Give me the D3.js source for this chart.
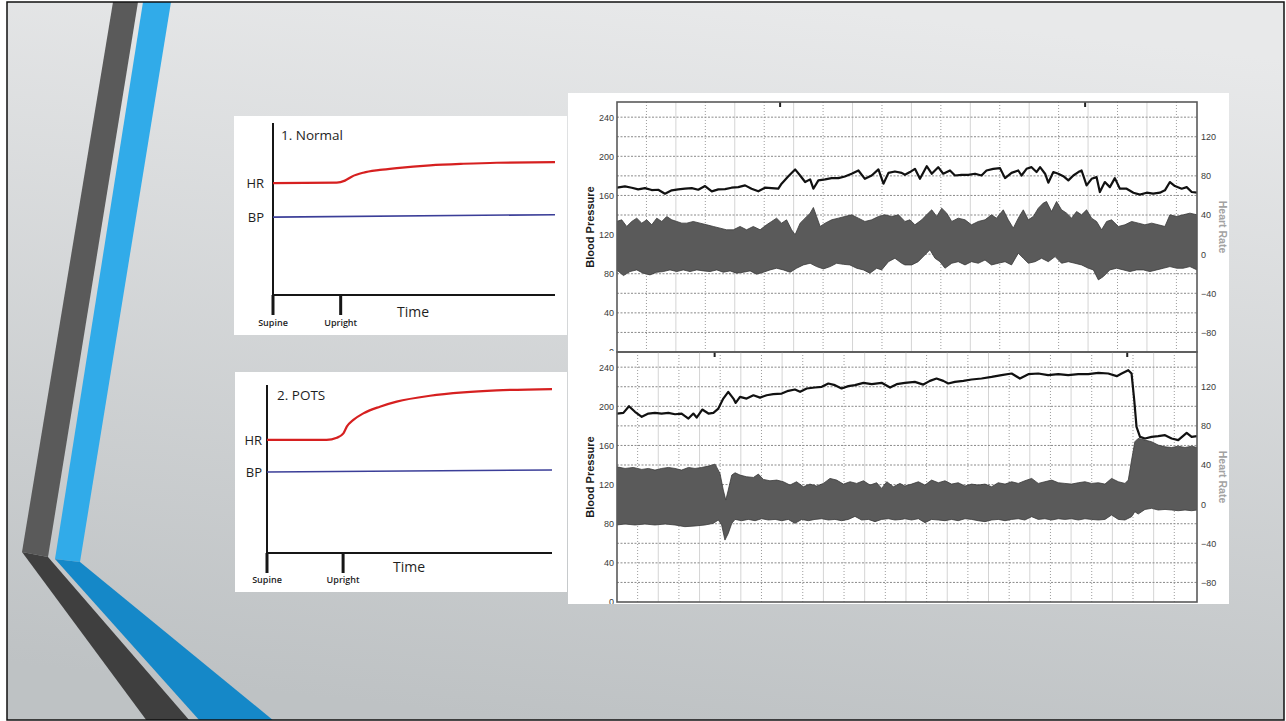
<!DOCTYPE html>
<html>
<head>
<meta charset="utf-8">
<script src="https://cdn.jsdelivr.net/npm/d3@7"></script>
<style>
  html, body { margin: 0; padding: 0; background: #fff; }
  svg { display: block; }
  .sketch text { font-family: "Open Sans", "Noto Sans", sans-serif; fill: #1e1e1e; }
  .trace text { font-family: "Liberation Sans", Arial, sans-serif; }
</style>
</head>
<body>
<div id="chart-area"></div>
<script>

// ---- schematic panels (time 0..10, level 0..10) ----
let phaseNames = ["Supine", "Upright"];
let uprightAt = [2.4, 2.67];

let normalHR = [[0,6.51],[2.26,6.53],[2.55,6.65],[2.79,6.88],[3.20,7.11],[3.79,7.27],[4.39,7.38],
  [5.57,7.54],[6.75,7.63],[7.93,7.69],[10,7.72]];
let normalBP = [[0,4.53],[10,4.67]];

let potsHR = [[0,6.73],[2.09,6.73],[2.45,6.86],[2.68,7.12],[2.80,7.52],[3.03,7.92],[3.38,8.31],
  [3.96,8.71],[4.55,9.01],[5.72,9.36],[6.89,9.56],[8.06,9.68],[10,9.76]];
let potsBP = [[0,4.82],[10,4.94]];

// ---- recorded traces: [minute, value] ----
let bpTicks = [0, 40, 80, 120, 160, 200, 240];
let hrTicks = [-80, -40, 0, 40, 80, 120];

// normal subject (top)
let topHR = [[-1.00,67.9],[-0.73,69.2],[-0.50,67.9],[-0.28,66.2],[-0.05,67.5],[0.18,65.5],[0.40,65.8],
  [0.63,61.8],[0.86,65.2],[1.08,66.2],[1.31,66.9],[1.54,67.5],[1.76,65.8],[1.99,69.6],[2.22,64.2],
  [2.44,66.2],[2.67,66.5],[2.89,67.9],[3.12,68.5],[3.35,70.3],[3.57,66.9],[3.80,64.2],[4.03,67.9],
  [4.25,67.5],[4.48,66.9],[4.59,72.0],[4.82,79.7],[5.05,86.6],[5.22,80.4],[5.39,73.7],[5.56,76.4],
  [5.67,66.9],[5.84,75.4],[6.07,76.4],[6.29,77.7],[6.52,77.7],[6.74,79.4],[6.97,82.2],[7.20,85.5],
  [7.42,77.0],[7.65,80.4],[7.88,86.6],[8.05,72.0],[8.22,83.1],[8.44,84.5],[8.67,83.1],
  [8.78,81.1],[8.95,83.9],[9.12,87.2],[9.29,77.0],[9.52,89.9],[9.69,82.2],[9.91,88.9],[10.08,82.2],
  [10.31,85.5],[10.48,80.4],[10.70,81.1],[10.93,81.1],[11.16,82.2],[11.38,80.4],[11.55,85.5],[11.78,87.2],
  [12.01,87.9],[12.18,77.7],[12.40,83.1],[12.63,85.5],[12.74,80.4],[12.91,87.2],[13.08,88.9],[13.25,83.9],
  [13.37,88.9],[13.54,82.2],[13.65,73.0],[13.82,83.9],[13.99,82.2],[14.16,79.7],[14.33,75.4],[14.50,80.4],
  [14.67,83.9],[14.78,85.5],[14.95,70.3],[15.12,77.0],[15.29,78.7],[15.40,63.5],[15.57,73.7],[15.74,68.5],
  [15.91,77.7],[16.08,66.9],[16.31,66.9],[16.54,62.8],[16.76,60.8],[16.99,62.8],[17.21,61.8],[17.44,62.8],
  [17.61,65.2],[17.78,73.7],[17.95,69.6],[18.18,66.9],[18.35,68.5],[18.52,63.5],[18.70,62.8]];

let topBpHi = [[-1.01,133.4],[-0.84,135.1],[-0.67,128.3],[-0.50,133.4],[-0.33,136.8],[-0.16,131.7],[0.01,135.1],
  [0.18,130.0],[0.35,136.8],[0.52,133.4],[0.69,138.5],[0.86,135.1],[1.03,133.4],[1.20,131.7],[1.37,131.7],
  [1.59,133.4],[1.82,131.7],[2.05,130.0],[2.27,128.3],[2.50,126.6],[2.72,124.9],[2.95,124.9],[3.18,128.3],
  [3.40,124.9],[3.63,128.3],[3.86,124.9],[4.08,130.0],[4.25,133.4],[4.42,136.8],[4.59,131.7],[4.76,135.1],
  [4.93,124.9],[5.05,119.9],[5.22,131.7],[5.39,136.8],[5.56,141.9],[5.67,147.7],[5.78,138.5],[5.90,128.3],
  [6.07,131.7],[6.29,135.1],[6.52,136.8],[6.74,138.5],[6.97,140.2],[7.20,136.8],[7.42,133.4],[7.65,135.1],
  [7.88,138.5],[8.10,140.2],[8.33,138.5],[8.56,140.2],
  [8.78,133.4],[8.95,135.1],[9.12,130.0],[9.35,135.1],[9.57,141.9],[9.69,145.3],[9.86,138.5],[10.03,147.0],
  [10.20,141.9],[10.37,133.4],[10.59,136.8],[10.82,135.1],[11.04,130.0],[11.27,133.4],[11.50,135.1],[11.72,140.2],
  [11.89,136.8],[12.12,145.3],[12.29,135.1],[12.46,126.6],[12.63,136.8],[12.80,145.3],[12.97,135.1],[13.14,138.5],
  [13.31,147.0],[13.48,152.2],[13.59,153.8],[13.76,143.6],[13.93,153.8],[14.10,145.3],[14.27,141.9],[14.44,136.8],
  [14.61,143.6],[14.78,140.2],[14.95,145.3],[15.12,136.8],[15.29,133.4],[15.46,124.9],[15.63,133.4],[15.80,135.1],
  [16.03,128.3],[16.25,130.0],[16.48,133.4],[16.71,131.7],[16.93,130.0],[17.16,131.7],[17.39,130.0],[17.61,128.3],
  [17.78,140.2],[18.01,138.5],[18.23,140.2],[18.46,141.9],[18.70,140.2]];

let topBpLo = [[-1.01,83.9],[-0.78,78.1],[-0.56,82.2],[-0.33,83.9],[-0.11,80.5],[0.12,78.8],[0.35,81.5],
  [0.57,82.2],[0.80,83.9],[1.03,82.2],[1.25,83.9],[1.48,82.2],[1.71,83.9],[1.93,82.9],[2.16,82.2],[2.39,83.9],
  [2.61,81.5],[2.84,82.9],[3.06,80.5],[3.29,81.5],[3.52,82.9],[3.74,79.5],[3.97,81.5],[4.20,83.9],[4.42,85.6],
  [4.65,83.9],[4.88,81.5],[5.10,85.6],[5.33,89.0],[5.56,90.7],[5.78,87.3],[6.01,84.9],[6.24,87.3],[6.46,90.7],
  [6.69,89.6],[6.91,89.0],[7.14,85.6],[7.37,83.9],[7.59,80.5],[7.82,85.6],[7.99,83.9],[8.22,92.3],[8.44,95.8],
  [8.67,90.7],
  [8.78,89.0],[9.01,89.0],[9.23,92.3],[9.46,99.3],[9.63,104.4],[9.80,95.8],[9.97,92.3],[10.14,85.6],[10.37,90.7],
  [10.59,92.3],[10.82,89.0],[11.04,92.3],[11.27,90.7],[11.50,94.0],[11.72,89.0],[11.95,90.7],[12.18,92.3],
  [12.40,89.0],[12.63,101.0],[12.80,95.8],[12.97,90.7],[13.20,92.3],[13.42,95.8],[13.65,92.3],[13.88,97.5],
  [14.10,90.7],[14.33,92.3],[14.55,90.7],[14.78,89.0],[15.01,85.6],[15.18,83.9],[15.35,73.7],[15.52,77.1],
  [15.74,83.9],[15.97,85.6],[16.20,83.9],[16.42,82.2],[16.65,83.9],[16.88,83.9],[17.10,82.2],[17.33,83.9],
  [17.56,85.6],[17.78,87.3],[18.01,85.6],[18.23,85.6],[18.46,87.3],[18.70,83.9]];

// POTS subject (bottom)
let botHR = [[-1.00,92.6],[-0.69,93.3],[-0.42,100.1],[-0.13,94.4],[0.20,89.3],[0.52,92.6],[0.84,93.3],
  [1.16,92.6],[1.49,93.3],[1.81,91.9],[2.13,92.6],[2.46,87.5],[2.70,92.6],[2.86,88.5],[3.13,96.7],[3.43,92.6],
  [3.67,93.3],[3.91,97.7],[4.15,107.9],[4.39,114.8],[4.64,107.9],[4.75,103.5],[4.96,109.6],[5.28,107.9],
  [5.61,111.3],[5.93,108.9],[6.25,111.3],[6.57,112.4],[6.98,113.0],[7.30,115.8],[7.62,117.2],[7.87,114.8],
  [8.19,118.2],[8.59,119.2],[8.92,119.9],[9.24,123.3],[9.56,121.6],[9.88,118.2],[10.21,120.6],[10.53,121.6],
  [10.94,124.0],[11.34,122.6],[11.82,124.0],[12.23,119.2],[12.55,122.6],[12.95,124.0],
  [13.43,125.0],[13.84,122.2],[14.16,126.0],[14.48,128.4],[14.81,126.0],[15.05,123.3],[15.37,125.0],
  [15.78,126.0],[16.18,127.4],[16.66,128.4],[17.15,130.0],[17.63,131.8],[18.12,133.5],[18.52,128.4],
  [18.93,132.8],[19.41,133.5],[19.89,131.8],[20.38,132.8],[20.86,131.8],[21.35,132.8],[21.83,132.8],
  [22.32,134.2],[22.80,133.5],[23.21,130.8],[23.45,133.5],[23.77,136.9],[23.93,133.5],[24.06,106.2],
  [24.17,79.0],[24.34,68.8],[24.58,67.1],[24.90,68.8],[25.22,69.5],[25.55,70.5],[25.87,67.1],[26.19,65.4],
  [26.60,72.9],[26.84,68.8],[27.10,69.5]];

let botBpHi = [[-1.02,138.2],[-0.61,136.5],[-0.21,137.5],[0.20,135.5],[0.52,136.5],[0.84,134.8],[1.16,136.5],
  [1.49,137.5],[1.81,136.5],[2.13,134.8],[2.46,137.5],[2.78,136.5],[3.10,137.5],[3.43,138.9],[3.75,140.9],
  [3.99,131.4],[4.15,114.4],[4.27,104.2],[4.39,114.4],[4.56,129.7],[4.72,132.1],[4.96,129.7],[5.28,128.0],
  [5.61,127.3],[5.85,130.7],[6.09,125.3],[6.41,123.9],[6.74,124.6],[7.06,122.9],[7.38,119.5],[7.70,122.9],
  [8.03,117.8],[8.35,120.5],[8.67,118.5],[9.00,121.2],[9.32,126.3],[9.64,124.6],[9.97,120.5],[10.29,122.9],
  [10.61,121.2],[10.94,123.9],[11.26,119.5],[11.58,121.9],[11.82,116.1],[12.07,122.9],[12.39,117.8],[12.71,121.2],
  [12.95,118.5],[13.27,120.5],[13.60,122.9],[13.92,119.5],[14.24,124.6],[14.57,121.9],[14.89,123.9],[15.21,120.5],
  [15.53,121.9],[15.86,118.5],[16.18,120.5],[16.50,119.5],[16.83,120.5],[17.15,117.8],[17.47,121.9],[17.80,120.5],
  [18.12,122.9],[18.44,121.2],[18.76,123.9],[19.09,126.3],[19.41,121.2],[19.73,122.9],[20.06,124.6],[20.38,121.9],
  [20.70,121.2],[21.02,120.5],[21.35,121.9],[21.67,122.9],[21.99,121.2],[22.32,121.9],[22.64,120.5],[22.96,126.3],
  [23.29,122.9],[23.61,121.2],[23.77,124.6],[23.93,145.0],[24.09,163.8],[24.25,167.2],[24.58,165.5],[24.90,163.8],
  [25.22,160.4],[25.55,158.6],[25.87,157.9],[26.19,159.3],[26.52,157.9],[26.84,159.3],[27.10,157.9]];

let botBpLo = [[-1.02,78.7],[-0.61,79.7],[-0.13,78.7],[0.36,79.7],[0.84,78.7],[1.33,79.7],[1.81,78.7],
  [2.29,77.0],[2.78,77.7],[3.26,78.7],[3.67,80.4],[3.91,83.8],[4.07,78.7],[4.23,63.3],[4.39,70.1],[4.56,80.4],
  [4.72,84.4],[5.04,83.1],[5.36,84.4],[5.69,83.1],[6.01,85.1],[6.33,83.8],[6.66,84.4],[6.98,83.1],[7.30,84.4],
  [7.62,80.4],[7.95,84.4],[8.27,83.1],[8.59,84.4],[8.92,85.1],[9.24,83.8],[9.56,84.4],[9.88,83.1],[10.21,84.4],
  [10.53,87.5],[10.85,83.8],[11.18,84.4],[11.50,82.1],[11.82,84.4],[12.15,85.1],[12.47,83.8],[12.79,84.4],
  [12.95,85.1],[13.27,83.8],[13.60,85.1],[13.92,81.1],[14.24,84.4],[14.57,83.8],[14.89,83.1],[15.21,84.4],
  [15.53,83.1],[15.86,85.1],[16.18,84.4],[16.50,83.1],[16.83,82.1],[17.15,83.8],[17.47,84.4],[17.80,83.1],
  [18.12,84.4],[18.44,85.1],[18.76,83.8],[19.09,87.2],[19.41,84.4],[19.73,85.1],[20.06,83.8],[20.38,85.1],
  [20.70,84.4],[21.02,85.1],[21.35,83.8],[21.67,85.1],[21.99,84.4],[22.32,83.8],[22.64,84.4],[22.96,88.9],
  [23.29,84.4],[23.61,83.8],[23.93,87.2],[24.09,92.3],[24.25,89.9],[24.58,94.6],[24.90,95.7],[25.22,94.0],
  [25.55,94.6],[25.87,94.0],[26.19,93.3],[26.52,94.0],[26.84,93.3],[27.10,94.0]];

// event markers at top edge of each trace
let topMarks = [4.54, 14.9];
let botMarks = [3.73, 23.72];


let width = 1286, height = 721;

let svg = d3.select("#chart-area").append("svg")
    .attr("width", width)
    .attr("height", height);

let defs = svg.append("defs");

// slide background
let grad = defs.append("linearGradient")
    .attr("id", "slide-bg")
    .attr("x1", 0.6).attr("y1", 0).attr("x2", 0.4).attr("y2", 1);
grad.append("stop").attr("offset", "0%").attr("stop-color", "#e8e9ea");
grad.append("stop").attr("offset", "100%").attr("stop-color", "#bec2c4");

defs.append("clipPath").attr("id", "slide-clip")
  .append("rect").attr("x", 7).attr("y", 2).attr("width", 1277).attr("height", 718);

svg.append("rect")
    .attr("x", 7).attr("y", 2)
    .attr("width", 1277).attr("height", 718)
    .attr("fill", "url(#slide-bg)");

// decorative chevron stripes
let deco = svg.append("g").attr("clip-path", "url(#slide-clip)");
let stripes = [
  {fill: "#5a5a5a", pts: [[113,2],[138,2],[48,557],[22,552]]},
  {fill: "#3f3f3f", pts: [[22,552],[48,557],[190,721],[147,721]]},
  {fill: "#31abe9", pts: [[143,2],[171,2],[80,562],[55,559]]},
  {fill: "#1588c8", pts: [[55,559],[80,562],[274,721],[200,721]]}
];
deco.selectAll("polygon")
  .data(stripes)
  .enter().append("polygon")
    .attr("points", d => d.pts.map(p => p.join(",")).join(" "))
    .attr("fill", d => d.fill);

svg.append("rect")
    .attr("x", 7).attr("y", 2)
    .attr("width", 1277).attr("height", 718)
    .attr("fill", "none")
    .attr("stroke", "#111")
    .attr("stroke-width", 1.5);


// ---------- schematic panels ----------
let sketches = [
  {box: [234,116,333,219], x0: 273, x1: 555, top: 123, base: 295, tickEnd: 315,
   title: "1. Normal", titleX: 281, titleY: 140, labelX: 264, timeX: 397, timeY: 317, capY: 326,
   hr: normalHR, bp: normalBP, upright: uprightAt[0]},
  {box: [235,372,332,220], x0: 267, x1: 552, top: 385, base: 553, tickEnd: 573,
   title: "2. POTS", titleX: 277, titleY: 400, labelX: 262, timeX: 393, timeY: 572, capY: 583,
   hr: potsHR, bp: potsBP, upright: uprightAt[1]}
];

sketches.forEach(drawSketch);

function drawSketch(p) {
  let g = svg.append("g").attr("class", "sketch");

  g.append("rect")
    .attr("x", p.box[0]).attr("y", p.box[1])
    .attr("width", p.box[2]).attr("height", p.box[3])
    .attr("fill", "#fff");

  let x = d3.scaleLinear().domain([0, 10]).range([p.x0, p.x1]);
  let y = d3.scaleLinear().domain([0, 10]).range([p.base, p.top]);

  // axes
  g.append("line")
    .attr("x1", x(0)).attr("x2", x(0))
    .attr("y1", y(10)).attr("y2", y(0))
    .attr("stroke", "#161616").attr("stroke-width", 2);
  g.append("line")
    .attr("x1", x(0)).attr("x2", x(10))
    .attr("y1", y(0)).attr("y2", y(0))
    .attr("stroke", "#161616").attr("stroke-width", 2);

  let phases = [0, p.upright];
  g.selectAll(".phase-tick")
    .data(phases)
    .enter().append("line")
      .attr("class", "phase-tick")
      .attr("x1", d => x(d)).attr("x2", d => x(d))
      .attr("y1", y(0)).attr("y2", p.tickEnd)
      .attr("stroke", "#161616").attr("stroke-width", 3);

  g.selectAll(".phase-label")
    .data(phases)
    .enter().append("text")
      .attr("class", "phase-label")
      .attr("x", d => x(d))
      .attr("y", p.capY)
      .attr("text-anchor", "middle")
      .attr("font-size", "9px")
      .attr("font-weight", 600)
      .text((d, i) => phaseNames[i]);

  let line = d3.line()
    .x(d => x(d[0]))
    .y(d => y(d[1]))
    .curve(d3.curveMonotoneX);

  g.append("path")
    .datum(p.bp)
    .attr("d", line)
    .attr("fill", "none")
    .attr("stroke", "#3b3e98")
    .attr("stroke-width", 1.6);

  g.append("path")
    .datum(p.hr)
    .attr("d", line)
    .attr("fill", "none")
    .attr("stroke", "#d62020")
    .attr("stroke-width", 2.2);

  g.append("text")
    .attr("x", p.titleX).attr("y", p.titleY)
    .attr("font-size", "13.5px")
    .text(p.title);

  g.append("text")
    .attr("x", p.labelX).attr("y", y(p.hr[0][1]))
    .attr("text-anchor", "end")
    .attr("dominant-baseline", "central")
    .attr("font-size", "13px")
    .text("HR");

  g.append("text")
    .attr("x", p.labelX).attr("y", y(p.bp[0][1]))
    .attr("text-anchor", "end")
    .attr("dominant-baseline", "central")
    .attr("font-size", "13px")
    .text("BP");

  g.append("text")
    .attr("x", p.timeX).attr("y", p.timeY)
    .attr("font-size", "14px")
    .text("Time");
}


// ---------- recorded traces ----------
let panel = svg.append("g").attr("class", "trace");

defs.append("clipPath").attr("id", "trace-panel")
  .append("rect").attr("x", 568).attr("y", 93).attr("width", 661).attr("height", 511);

panel.append("rect")
    .attr("x", 568).attr("y", 93)
    .attr("width", 661).attr("height", 511)
    .attr("fill", "#fff");

let traces = [
  {id: "top", y0: 102, y1: 352, tDomain: [-1, 18.7], hr: topHR, hi: topBpHi, lo: topBpLo, marks: topMarks},
  {id: "bot", y0: 352, y1: 602, tDomain: [-1, 27.1], hr: botHR, hi: botBpHi, lo: botBpLo, marks: botMarks}
];

traces.forEach(drawTrace);

function drawTrace(s) {
  let left = 617, right = 1197;

  let g = panel.append("g").attr("clip-path", "url(#trace-panel)");

  let x = d3.scaleLinear().domain(s.tDomain).range([left, right]);
  let yBp = d3.scaleLinear().domain([0, 255.5]).range([s.y1, s.y0]);
  let yHr = d3.scaleLinear().domain([-100, 155.5]).range([s.y1, s.y0]);

  defs.append("clipPath").attr("id", "plot-" + s.id)
    .append("rect").attr("x", left).attr("y", s.y0).attr("width", right - left).attr("height", s.y1 - s.y0);

  // vertical grid every minute, alternating dotted / solid
  let vt = x.ticks(40).filter(t => Number.isInteger(t) && t > s.tDomain[0] + 0.5 && t < s.tDomain[1] - 0.5);
  g.selectAll(".vgrid")
    .data(vt)
    .enter().append("line")
      .attr("x1", d => x(d)).attr("x2", d => x(d))
      .attr("y1", s.y0).attr("y2", s.y1)
      .attr("stroke", (d, i) => i % 2 ? "#d4d4d4" : "#9c9c9c")
      .attr("stroke-dasharray", (d, i) => i % 2 ? null : "1,2")
      .attr("stroke-width", 1);

  // horizontal grid every 20 mmHg
  let ht = yBp.ticks(12).filter(t => t > 0);
  g.selectAll(".hgrid")
    .data(ht)
    .enter().append("line")
      .attr("x1", left).attr("x2", right)
      .attr("y1", d => yBp(d)).attr("y2", d => yBp(d))
      .attr("stroke", "#8a8a8a")
      .attr("stroke-dasharray", "2,1.5")
      .attr("stroke-width", 1);

  let plot = g.append("g").attr("clip-path", "url(#plot-" + s.id + ")");

  // beat-to-beat pressure envelope
  let band = d3.line()
    .x(d => x(d[0]))
    .y(d => yBp(d[1]));
  plot.append("path")
    .attr("d", band(s.hi.concat(s.lo.slice().reverse())) + "Z")
    .attr("fill", "#5a5a5a")
    .attr("stroke", "#3a3a3a")
    .attr("stroke-width", 0.8)
    .attr("stroke-linejoin", "round");

  // heart rate
  let hrLine = d3.line()
    .x(d => x(d[0]))
    .y(d => yHr(d[1]));
  plot.append("path")
    .datum(s.hr)
    .attr("d", hrLine)
    .attr("fill", "none")
    .attr("stroke", "#111")
    .attr("stroke-width", 2.2)
    .attr("stroke-linejoin", "round");

  // event markers
  g.selectAll(".mark")
    .data(s.marks)
    .enter().append("line")
      .attr("x1", d => x(d)).attr("x2", d => x(d))
      .attr("y1", s.y0).attr("y2", s.y0 + 5)
      .attr("stroke", "#222")
      .attr("stroke-width", 2);

  // frame
  g.append("rect")
    .attr("x", left).attr("y", s.y0)
    .attr("width", right - left).attr("height", s.y1 - s.y0)
    .attr("fill", "none")
    .attr("stroke", "#5a5a5a")
    .attr("stroke-width", 1.6);

  // axes
  let axL = g.append("g")
    .attr("transform", `translate(${left},0)`)
    .call(d3.axisLeft(yBp).tickValues(bpTicks).tickSize(0).tickPadding(3));
  if (s.id === "top") {
    // clip in the axis' own (translated) coordinates, so the "0" is cut at the frame line
    defs.append("clipPath").attr("id", "axis-top")
      .append("rect").attr("x", -60).attr("y", 93).attr("width", 60).attr("height", 258);
    axL.attr("clip-path", "url(#axis-top)");
  }
  let axR = g.append("g")
    .attr("transform", `translate(${right},0)`)
    .call(d3.axisRight(yHr).tickValues(hrTicks).tickSize(0).tickPadding(4));

  [axL, axR].forEach(a => {
    a.select(".domain").remove();
    a.selectAll("text")
      .attr("font-family", "Liberation Sans, Arial, sans-serif")
      .attr("font-size", "9px")
      .attr("fill", "#3a3a3a");
  });

  let mid = (s.y0 + s.y1) / 2;
  g.append("text")
    .attr("transform", `translate(590,${mid}) rotate(-90)`)
    .attr("text-anchor", "middle")
    .attr("dominant-baseline", "central")
    .attr("font-size", "11px")
    .attr("font-weight", "bold")
    .attr("fill", "#1a1a1a")
    .text("Blood Pressure");

  g.append("text")
    .attr("transform", `translate(1223,${mid}) rotate(90)`)
    .attr("text-anchor", "middle")
    .attr("dominant-baseline", "central")
    .attr("font-size", "10.5px")
    .attr("font-weight", "bold")
    .attr("fill", "#a2a2a2")
    .text("Heart Rate");
}
</script>
</body>
</html>
